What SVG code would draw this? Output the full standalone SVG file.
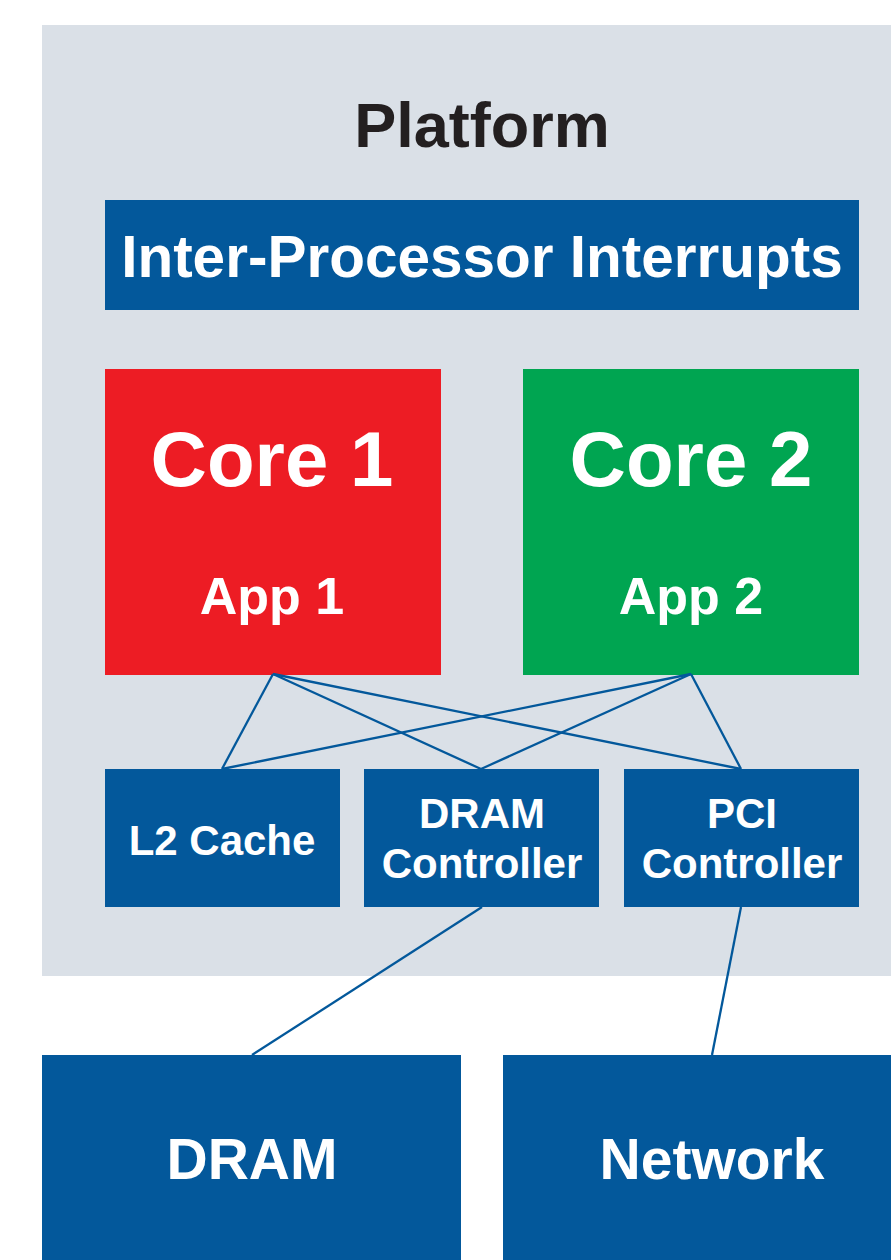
<svg xmlns="http://www.w3.org/2000/svg" width="891" height="1260" viewBox="0 0 891 1260">
<style>
.blue{fill:#03589b}
.t{font-family:"Liberation Sans",Arial,sans-serif;font-weight:bold;fill:#fff;text-anchor:middle}
.c{stroke:#03589b;stroke-width:2.3;fill:none}
</style>
<rect x="0" y="0" width="891" height="1260" fill="#fff"/>
<g id="platform">
<rect x="42" y="25" width="849" height="951" fill="#dae0e7"/>
<text x="482" y="147" class="t" style="fill:#231f20;font-size:63px">Platform</text>
</g>
<g id="ipi">
<rect class="blue" x="105" y="200" width="754" height="110"/>
<text x="482" y="277" class="t" style="font-size:58.5px">Inter-Processor Interrupts</text>
</g>
<g id="core1">
<rect x="105" y="369" width="336" height="306" fill="#ed1c24"/>
<text x="272" y="486" class="t" style="font-size:78px">Core 1</text>
<text x="272" y="614" class="t" style="font-size:52px">App 1</text>
</g>
<g id="core2">
<rect x="523" y="369" width="336" height="306" fill="#00a551"/>
<text x="691" y="486" class="t" style="font-size:78px">Core 2</text>
<text x="691" y="614" class="t" style="font-size:52px">App 2</text>
</g>
<g id="l2">
<rect class="blue" x="105" y="769" width="235" height="138"/>
<text x="222" y="855" class="t" style="font-size:42px">L2 Cache</text>
</g>
<g id="dramctl">
<rect class="blue" x="364" y="769" width="235" height="138"/>
<text x="482" y="828" class="t" style="font-size:42px">DRAM</text>
<text x="482" y="878" class="t" style="font-size:42px">Controller</text>
</g>
<g id="pcictl">
<rect class="blue" x="624" y="769" width="235" height="138"/>
<text x="742" y="828" class="t" style="font-size:42px">PCI</text>
<text x="742" y="878" class="t" style="font-size:42px">Controller</text>
</g>
<g id="dram">
<rect class="blue" x="42" y="1055" width="419" height="205"/>
<text x="252" y="1179" class="t" style="font-size:57px">DRAM</text>
</g>
<g id="network">
<rect class="blue" x="503" y="1055" width="388" height="205"/>
<text x="712" y="1179" class="t" style="font-size:57px">Network</text>
</g>
<g id="connectors" class="c">
<line x1="273" y1="674" x2="222" y2="769"/>
<line x1="273" y1="674" x2="481" y2="769"/>
<line x1="273" y1="674" x2="741" y2="769"/>
<line x1="691" y1="674" x2="222" y2="769"/>
<line x1="691" y1="674" x2="481" y2="769"/>
<line x1="691" y1="674" x2="741" y2="769"/>
<line x1="482" y1="907" x2="252" y2="1055"/>
<line x1="741" y1="907" x2="712" y2="1055"/>
</g>
</svg>
